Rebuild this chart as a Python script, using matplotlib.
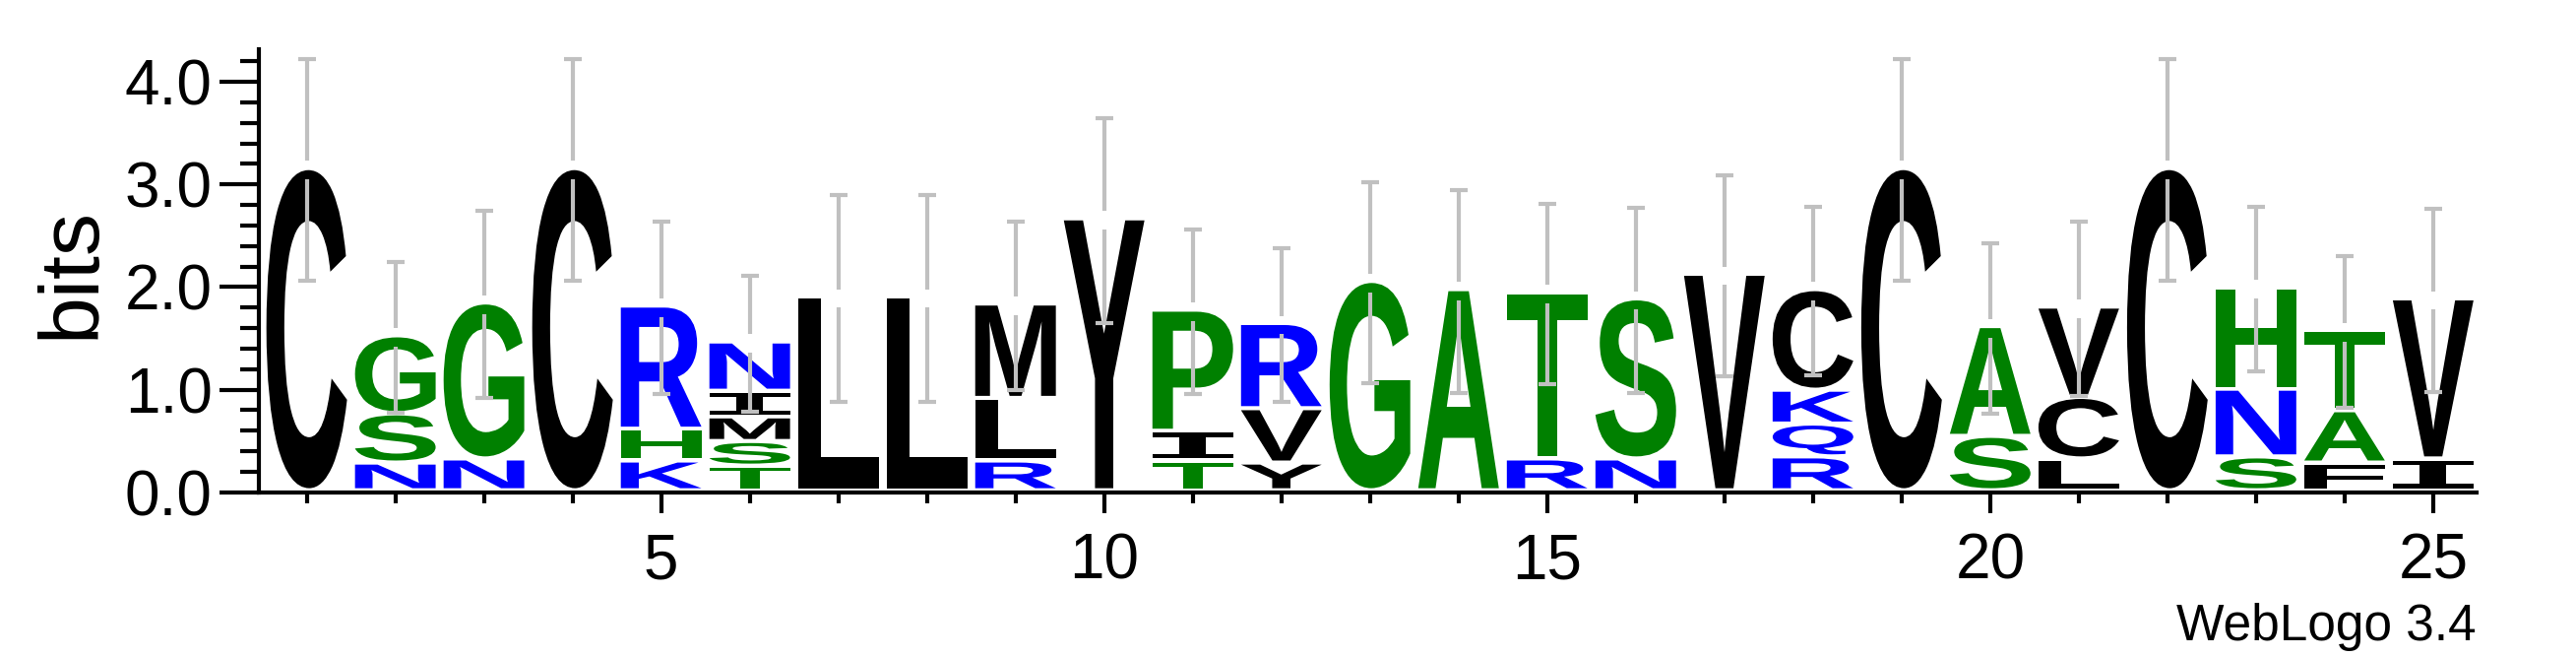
import matplotlib

matplotlib.use('Agg')
import matplotlib.pyplot as plt
from matplotlib import font_manager as fm
from matplotlib.font_manager import FontProperties
from matplotlib.patches import PathPatch
from matplotlib.textpath import TextPath
from matplotlib.transforms import Affine2D
from matplotlib.ticker import FixedLocator, MultipleLocator, FormatStrFormatter

# --- data: letters per column, bottom -> top, with stacked heights (bits)
positions = list(range(1, 26))
letters = ['C', 'NSG', 'NG', 'C', 'KHR', 'TSMIN', 'L', 'L', 'RLM', 'Y',
           'TIP', 'YVR', 'G', 'A', 'RT', 'NS', 'V', 'RQKC', 'C', 'SA',
           'LCV', 'C', 'SNH', 'FAT', 'IV']
heights = [
  [3.14],
  [0.27, 0.48, 0.76],
  [0.31, 1.52],
  [3.14],
  [0.29, 0.31, 1.20],
  [0.24, 0.24, 0.24, 0.25, 0.48],
  [1.89],
  [1.89],
  [0.29, 0.61, 0.92],
  [2.65],
  [0.29, 0.29, 1.18],
  [0.27, 0.53, 0.83],
  [2.04],
  [1.96],
  [0.31, 1.62],
  [0.31, 1.56],
  [2.11],
  [0.33, 0.32, 0.33, 0.98],
  [3.14],
  [0.53, 1.07],
  [0.31, 0.60, 0.88],
  [3.14],
  [0.33, 0.66, 0.99],
  [0.27, 0.51, 0.78],
  [0.31, 1.56],
]
errors = [1.08, 0.73, 0.91, 1.08, 0.84, 0.66, 1.01, 1.01, 0.82, 1.00,
          0.80, 0.75, 0.98, 0.99, 0.88, 0.90, 0.98, 0.82, 1.08, 0.83,
          0.85, 1.08, 0.80, 0.74, 0.89]

COLORS = {}
for ch in 'CLMYVIF':
  COLORS[ch] = '#000000'
for ch in 'GSATPH':
  COLORS[ch] = '#008000'
for ch in 'NRKQ':
  COLORS[ch] = '#0000ff'

installed = {f.name for f in fm.fontManager.ttflist}
SANS = 'Liberation Sans' if 'Liberation Sans' in installed else 'DejaVu Sans'
NARROW = 'Liberation Sans Narrow' if 'Liberation Sans Narrow' in installed else SANS
plt.rcParams['font.family'] = [SANS, 'DejaVu Sans']

FP = FontProperties(family=SANS, weight='bold')
FP_I = FontProperties(family='DejaVu Sans Mono', weight='bold')  # serif-style I

LETTER_W = 0.91
PAD = 0.04
GAP = 0.09
CAP = 0.10


def draw_letter(ax, ch, x, y0, h):
  tp = TextPath((0, 0), ch, size=1, prop=FP_I if ch == 'I' else FP)
  bb = tp.get_extents()
  gh = h - PAD
  tr = (Affine2D().translate(-bb.x0, -bb.y0)
        .scale(LETTER_W / bb.width, gh / bb.height)
        .translate(x - LETTER_W / 2, y0 + PAD))
  ax.add_patch(PathPatch(tr.transform_path(tp), facecolor=COLORS[ch],
                         edgecolor='none', lw=0, zorder=2))


fig = plt.figure(figsize=(26.17, 6.67), dpi=100)
ax = fig.add_axes([263 / 2617, 1 - 499.8 / 667, (2516 - 263) / 2617, 450 / 667])

for x, chars, hs, err in zip(positions, letters, heights, errors):
  y = 0.0
  for ch, h in zip(chars, hs):
    draw_letter(ax, ch, x, y, h)
    y += h
  top = y
  grey = '#c0c0c0'
  ax.plot([x, x], [top + GAP, top + err], color=grey, lw=3, zorder=3,
          solid_capstyle='butt')
  ax.plot([x, x], [top - err, top - GAP], color=grey, lw=3, zorder=3,
          solid_capstyle='butt')
  for yy in (top + err, top - err):
    ax.plot([x - CAP, x + CAP], [yy, yy], color=grey, lw=3, zorder=3,
            solid_capstyle='butt')

ax.set_xlim(0.46, 25.49)
ax.set_ylim(0, 4.32)
for s in ('top', 'right'):
  ax.spines[s].set_visible(False)
for s in ('left', 'bottom'):
  ax.spines[s].set_linewidth(3)

ax.yaxis.set_major_locator(MultipleLocator(1.0))
ax.yaxis.set_minor_locator(MultipleLocator(0.2))
ax.yaxis.set_major_formatter(FormatStrFormatter('%.1f'))
ax.xaxis.set_major_locator(FixedLocator([5, 10, 15, 20, 25]))
ax.xaxis.set_minor_locator(FixedLocator(positions))

ax.tick_params(axis='y', which='major', length=29, width=3, pad=5, labelsize=46)
ax.tick_params(axis='y', which='minor', length=14, width=3)
ax.tick_params(axis='x', which='major', length=15, width=3, pad=14, labelsize=46)
ax.tick_params(axis='x', which='minor', length=8, width=3)

fig.text(74 / 2617, 1 - 277 / 667, 'bits', rotation=90, fontsize=62,
         ha='center', va='center')
fig.text(2516 / 2617, 1 - 650 / 667, 'WebLogo 3.4', fontsize=37,
         family=[NARROW, 'DejaVu Sans'], ha='right', va='baseline')

fig.savefig('out.png', dpi=100)
